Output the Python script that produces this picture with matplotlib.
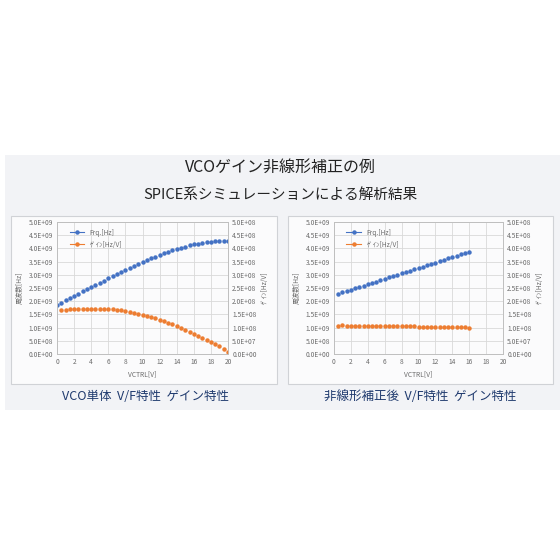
import matplotlib.pyplot as plt
from matplotlib.patches import Rectangle
from matplotlib.ticker import FuncFormatter, MultipleLocator

plt.rcParams['font.family'] = ['Noto Sans CJK JP', 'DejaVu Sans']

# 左: VCO単体
vctrl_a = [0, 0.5, 1, 1.5, 2, 2.5, 3, 3.5, 4, 4.5, 5, 5.5, 6, 6.5, 7, 7.5, 8, 8.5, 9, 9.5,
           10, 10.5, 11, 11.5, 12, 12.5, 13, 13.5, 14, 14.5, 15, 15.5, 16, 16.5, 17, 17.5,
           18, 18.5, 19, 19.5, 20]
frq_a = [1.87, 1.95, 2.03, 2.12, 2.20, 2.28, 2.37, 2.45, 2.53, 2.62, 2.70, 2.78, 2.87, 2.95,
         3.03, 3.11, 3.19, 3.27, 3.34, 3.42, 3.49, 3.56, 3.63, 3.69, 3.76, 3.82, 3.87, 3.93,
         3.98, 4.03, 4.07, 4.11, 4.15, 4.18, 4.21, 4.23, 4.25, 4.27, 4.28, 4.29, 4.29]  # E+09
gain_x_a = vctrl_a[1:]
gain_a = [1.66, 1.68, 1.69, 1.70, 1.71, 1.72, 1.72, 1.72, 1.72, 1.71, 1.71, 1.70, 1.69, 1.67,
          1.65, 1.63, 1.60, 1.57, 1.53, 1.49, 1.45, 1.40, 1.35, 1.29, 1.24, 1.18, 1.12, 1.06,
          0.99, 0.92, 0.84, 0.76, 0.68, 0.61, 0.54, 0.47, 0.38, 0.29, 0.19, 0.09]  # E+08

# 右: 非線形補正後
vctrl_b = [0.5, 1, 1.5, 2, 2.5, 3, 3.5, 4, 4.5, 5, 5.5, 6, 6.5, 7, 7.5, 8, 8.5, 9, 9.5, 10,
           10.5, 11, 11.5, 12, 12.5, 13, 13.5, 14, 14.5, 15, 15.5, 16]
frq_b = [2.28, 2.33, 2.38, 2.43, 2.49, 2.54, 2.59, 2.64, 2.69, 2.74, 2.80, 2.85, 2.90, 2.95,
         3.00, 3.05, 3.10, 3.15, 3.21, 3.26, 3.31, 3.36, 3.41, 3.46, 3.51, 3.56, 3.62, 3.67,
         3.72, 3.77, 3.82, 3.87]  # E+09
gain_b = [1.06, 1.08, 1.06, 1.07, 1.07, 1.06, 1.07, 1.07, 1.06, 1.07, 1.05, 1.05, 1.05, 1.06,
          1.05, 1.05, 1.05, 1.05, 1.05, 1.04, 1.04, 1.04, 1.04, 1.04, 1.04, 1.03, 1.03, 1.03,
          1.03, 1.02, 1.01, 0.99]  # E+08

BLUE = '#4472C4'
ORANGE = '#ED7D31'
TXT = '#6b6b6b'
GRID = '#d9d9d9'

W = 560
fig = plt.figure(figsize=(5.6, 5.6), dpi=100)
fig.patch.set_facecolor('white')


def px(x0, y0, x1, y1):
    # pixel box (top-left origin) -> figure fraction
    return [x0 / W, 1 - y1 / W, (x1 - x0) / W, (y1 - y0) / W]


def rect(x0, y0, x1, y1, fc, ec='none', lw=0.8):
    l, b, w, h = px(x0, y0, x1, y1)
    fig.patches.append(Rectangle((l, b), w, h, transform=fig.transFigure,
                                 facecolor=fc, edgecolor=ec, linewidth=lw, zorder=-5))


rect(5, 155, 560, 410, '#f2f3f6')
rect(11, 216, 277, 384, '#fbfbfc', '#d0d2d6')
rect(288, 216, 553, 384, '#fbfbfc', '#d0d2d6')

fig.text(0.5, 1 - 167 / W, 'VCOゲイン非線形補正の例', ha='center', va='center',
         fontsize=11.5, color='#222222')
fig.text(0.5, 1 - 195 / W, 'SPICE系シミュレーションによる解析結果', ha='center', va='center',
         fontsize=10.5, color='#222222')
fig.text(145 / W, 1 - 397 / W, 'VCO単体  V/F特性  ゲイン特性', ha='center', va='center',
         fontsize=9, color='#1f3a6e')
fig.text(420 / W, 1 - 397 / W, '非線形補正後  V/F特性  ゲイン特性', ha='center', va='center',
         fontsize=9, color='#1f3a6e')


def sci(v, _):
    return '%.1E' % v


def make_chart(x0, x1, fx, fy, gx, gy):
    ax = fig.add_axes(px(x0, 222, x1, 354))
    ax.set_facecolor('none')
    ax.plot(fx, [v * 1e9 for v in fy], 'o', color=BLUE, ms=2.2)
    ax2 = ax.twinx()
    ax2.plot(gx, [v * 1e8 for v in gy], 'o', color=ORANGE, ms=2.2)
    ax.set_xlim(0, 20)
    ax.set_ylim(0, 5e9)
    ax2.set_ylim(0, 5e8)
    ax.xaxis.set_major_locator(MultipleLocator(2))
    ax.yaxis.set_major_locator(MultipleLocator(5e8))
    ax2.yaxis.set_major_locator(MultipleLocator(5e7))
    ax.yaxis.set_major_formatter(FuncFormatter(sci))
    ax2.yaxis.set_major_formatter(FuncFormatter(sci))
    ax.grid(True, color=GRID, lw=0.6)
    ax.set_axisbelow(True)
    for a in (ax, ax2):
        for s in a.spines.values():
            s.set_color('#bfbfbf')
            s.set_linewidth(0.6)
        a.tick_params(labelsize=4.8, colors=TXT, length=0, pad=3)
    ax.set_xlabel('VCTRL[V]', fontsize=4.8, color=TXT, labelpad=3)
    ax.set_ylabel('周波数[Hz]', fontsize=4.8, color=TXT, labelpad=3)
    ax2.set_ylabel('ｹﾞｲﾝ[Hz/V]', fontsize=4.8, color=TXT, rotation=90, labelpad=3)
    # legend handles with connecting line like Excel
    h1 = plt.Line2D([], [], color=BLUE, marker='o', ms=2.2, lw=0.8)
    h2 = plt.Line2D([], [], color=ORANGE, marker='o', ms=2.2, lw=0.8)
    ax2.legend([h1, h2], ['Frq.[Hz]', 'ｹﾞｲﾝ[Hz/V]'], loc='upper left',
               bbox_to_anchor=(0.05, 0.98), fontsize=4.8, frameon=False,
               labelcolor=TXT, handlelength=2.2, borderaxespad=0.2, labelspacing=0.6)
    return ax


make_chart(57, 228, vctrl_a, frq_a, gain_x_a, gain_a)
make_chart(334, 503, vctrl_b, frq_b, vctrl_b, gain_b)

fig.savefig('out.png', dpi=100, facecolor='white')
